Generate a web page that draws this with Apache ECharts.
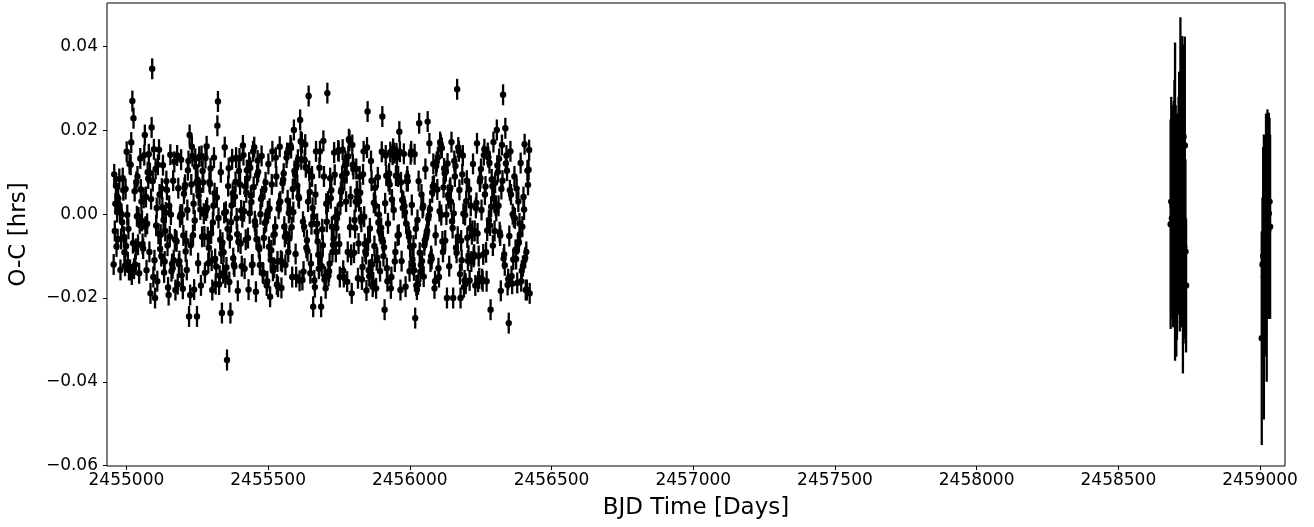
<!DOCTYPE html>
<html>
<head>
<meta charset="utf-8">
<script src="https://cdn.jsdelivr.net/npm/echarts@6/dist/echarts.min.js"></script>
<style>
html,body{margin:0;padding:0;background:#fff;}
#chart{width:1314px;height:527px;}
</style>
</head>
<body>
<div id="chart"></div>
<script>
// ---- Kepler transit times (BJD) ----
const keplerTime = [
2454955,2454957,2454959,2454961,2454963,2454965,2454967,
2454969,2454971,2454973,2454975,2454977,2454979,2454981,
2454983,2454985,2454987,2454989,2454991,2454993,2454995,
2454997,2454999,2455001,2455003,2455005,2455007,2455009,
2455011,2455013,2455015,2455017,2455019,2455021,2455023,
2455025,2455027,2455029,2455031,2455033,2455035,2455037,
2455039,2455041,2455043,2455045,2455047,2455049,2455051,
2455053,2455055,2455057,2455059,2455061,2455063,2455065,
2455067,2455069,2455071,2455073,2455075,2455077,2455079,
2455081,2455083,2455085,2455087,2455089,2455091,2455093,
2455095,2455097,2455099,2455101,2455103,2455105,2455107,
2455109,2455111,2455113,2455115,2455117,2455119,2455121,
2455123,2455125,2455127,2455129,2455131,2455133,2455135,
2455137,2455139,2455141,2455143,2455145,2455147,2455149,
2455151,2455153,2455155,2455157,2455159,2455161,2455163,
2455165,2455167,2455169,2455171,2455173,2455175,2455177,
2455179,2455181,2455183,2455185,2455187,2455189,2455191,
2455193,2455195,2455197,2455199,2455201,2455203,2455205,
2455207,2455209,2455211,2455213,2455215,2455217,2455219,
2455221,2455223,2455225,2455227,2455229,2455231,2455233,
2455235,2455237,2455239,2455241,2455243,2455245,2455247,
2455249,2455251,2455253,2455255,2455257,2455259,2455261,
2455263,2455265,2455267,2455269,2455271,2455273,2455275,
2455277,2455279,2455281,2455283,2455285,2455287,2455289,
2455291,2455293,2455295,2455297,2455299,2455301,2455303,
2455305,2455307,2455309,2455311,2455313,2455315,2455317,
2455319,2455321,2455323,2455325,2455327,2455329,2455331,
2455333,2455335,2455337,2455339,2455341,2455343,2455345,
2455347,2455349,2455351,2455353,2455355,2455357,2455359,
2455361,2455363,2455365,2455367,2455369,2455371,2455373,
2455375,2455377,2455379,2455381,2455383,2455385,2455387,
2455389,2455391,2455393,2455395,2455397,2455399,2455401,
2455403,2455405,2455407,2455409,2455411,2455413,2455415,
2455417,2455419,2455421,2455423,2455425,2455427,2455429,
2455431,2455433,2455435,2455437,2455439,2455441,2455443,
2455445,2455447,2455449,2455451,2455453,2455455,2455457,
2455459,2455461,2455463,2455465,2455467,2455469,2455471,
2455473,2455475,2455477,2455479,2455481,2455483,2455485,
2455487,2455489,2455491,2455493,2455495,2455497,2455499,
2455501,2455503,2455505,2455507,2455509,2455511,2455513,
2455515,2455517,2455519,2455521,2455523,2455525,2455527,
2455529,2455531,2455533,2455535,2455537,2455539,2455541,
2455543,2455545,2455547,2455549,2455551,2455553,2455555,
2455557,2455559,2455561,2455563,2455565,2455567,2455569,
2455571,2455573,2455575,2455577,2455579,2455581,2455583,
2455585,2455587,2455589,2455591,2455593,2455595,2455597,
2455599,2455601,2455603,2455605,2455607,2455609,2455611,
2455613,2455615,2455617,2455619,2455621,2455623,2455625,
2455627,2455629,2455631,2455633,2455635,2455637,2455639,
2455641,2455643,2455645,2455647,2455649,2455651,2455653,
2455655,2455657,2455659,2455661,2455663,2455665,2455667,
2455669,2455671,2455673,2455675,2455677,2455679,2455681,
2455683,2455685,2455687,2455689,2455691,2455693,2455695,
2455697,2455699,2455701,2455703,2455705,2455707,2455709,
2455711,2455713,2455715,2455717,2455719,2455721,2455723,
2455725,2455727,2455729,2455731,2455733,2455735,2455737,
2455739,2455741,2455743,2455745,2455747,2455749,2455751,
2455753,2455755,2455757,2455759,2455761,2455763,2455765,
2455767,2455769,2455771,2455773,2455775,2455777,2455779,
2455781,2455783,2455785,2455787,2455789,2455791,2455793,
2455795,2455797,2455799,2455801,2455803,2455805,2455807,
2455809,2455811,2455813,2455815,2455817,2455819,2455821,
2455823,2455825,2455827,2455829,2455831,2455833,2455835,
2455837,2455839,2455841,2455843,2455845,2455847,2455849,
2455851,2455853,2455855,2455857,2455859,2455861,2455863,
2455865,2455867,2455869,2455871,2455873,2455875,2455877,
2455879,2455881,2455883,2455885,2455887,2455889,2455891,
2455893,2455895,2455897,2455899,2455901,2455903,2455905,
2455907,2455909,2455911,2455913,2455915,2455917,2455919,
2455921,2455923,2455925,2455927,2455929,2455931,2455933,
2455935,2455937,2455939,2455941,2455943,2455945,2455947,
2455949,2455951,2455953,2455955,2455957,2455959,2455961,
2455963,2455965,2455967,2455969,2455971,2455973,2455975,
2455977,2455979,2455981,2455983,2455985,2455987,2455989,
2455991,2455993,2455995,2455997,2455999,2456001,2456003,
2456005,2456007,2456009,2456011,2456013,2456015,2456017,
2456019,2456021,2456023,2456025,2456027,2456029,2456031,
2456033,2456035,2456037,2456039,2456041,2456043,2456045,
2456047,2456049,2456051,2456053,2456055,2456057,2456059,
2456061,2456063,2456065,2456067,2456069,2456071,2456073,
2456075,2456077,2456079,2456081,2456083,2456085,2456087,
2456089,2456091,2456093,2456095,2456097,2456099,2456101,
2456103,2456105,2456107,2456109,2456111,2456113,2456115,
2456117,2456119,2456121,2456123,2456125,2456127,2456129,
2456131,2456133,2456135,2456137,2456139,2456141,2456143,
2456145,2456147,2456149,2456151,2456153,2456155,2456157,
2456159,2456161,2456163,2456165,2456167,2456169,2456171,
2456173,2456175,2456177,2456179,2456181,2456183,2456185,
2456187,2456189,2456191,2456193,2456195,2456197,2456199,
2456201,2456203,2456205,2456207,2456209,2456211,2456213,
2456215,2456217,2456219,2456221,2456223,2456225,2456227,
2456229,2456231,2456233,2456235,2456237,2456239,2456241,
2456243,2456245,2456247,2456249,2456251,2456253,2456255,
2456257,2456259,2456261,2456263,2456265,2456267,2456269,
2456271,2456273,2456275,2456277,2456279,2456281,2456283,
2456285,2456287,2456289,2456291,2456293,2456295,2456297,
2456299,2456301,2456303,2456305,2456307,2456309,2456311,
2456313,2456315,2456317,2456319,2456321,2456323,2456325,
2456327,2456329,2456331,2456333,2456335,2456337,2456339,
2456341,2456343,2456345,2456347,2456349,2456351,2456353,
2456355,2456357,2456359,2456361,2456363,2456365,2456367,
2456369,2456371,2456373,2456375,2456377,2456379,2456381,
2456383,2456385,2456387,2456389,2456391,2456393,2456395,
2456397,2456399,2456401,2456403,2456405,2456407,2456409,
2456411,2456413,2456415,2456417,2456419,2456421,2456423
];
// ---- Kepler O-C values (hrs) ----
const keplerOC = [
-0.0120,0.0095,-0.0040,0.0025,0.0068,-0.0077,0.0005,
-0.0060,0.0038,0.0023,0.0084,0.0007,-0.0133,-0.0059,
0.0000,-0.0019,0.0086,0.0057,-0.0054,-0.0091,-0.0123,
0.0060,-0.0076,0.0149,-0.0002,-0.0115,-0.0035,-0.0133,
0.0120,-0.0133,0.0118,0.0171,-0.0144,0.0270,-0.0069,
0.0229,-0.0130,0.0055,-0.0120,-0.0083,0.0077,-0.0005,
0.0090,-0.0073,-0.0008,-0.0141,-0.0022,0.0133,0.0059,
0.0030,-0.0016,-0.0071,-0.0082,0.0039,0.0141,0.0189,
-0.0030,0.0041,-0.0134,-0.0023,0.0100,0.0085,0.0143,
-0.0090,0.0098,-0.0189,0.0036,0.0207,0.0347,0.0079,
-0.0150,0.0155,-0.0110,-0.0200,0.0108,-0.0027,0.0015,
-0.0160,0.0118,-0.0047,0.0154,0.0047,-0.0083,-0.0049,
-0.0100,0.0061,0.0016,0.0117,-0.0014,-0.0139,-0.0113,
-0.0040,0.0004,0.0079,0.0058,-0.0075,-0.0175,-0.0193,
0.0020,-0.0053,0.0142,-0.0001,-0.0136,-0.0119,-0.0129,
0.0080,-0.0110,0.0125,-0.0060,-0.0181,-0.0063,-0.0065,
0.0140,-0.0167,0.0062,-0.0119,-0.0112,-0.0007,-0.0001,
0.0130,-0.0146,-0.0001,-0.0178,-0.0051,0.0049,0.0063,
0.0070,-0.0089,-0.0064,-0.0133,0.0010,0.0105,0.0127,
-0.0244,0.0189,-0.0193,-0.0074,0.0071,0.0161,0.0139,
-0.0050,0.0025,-0.0180,-0.0015,0.0132,0.0113,0.0075,
-0.0244,0.0082,-0.0117,0.0044,0.0137,0.0057,0.0011,
-0.0170,0.0139,-0.0054,0.0103,0.0076,0.0001,-0.0053,
-0.0140,0.0134,0.0009,0.0162,0.0015,-0.0055,-0.0117,
-0.0080,0.0077,0.0072,0.0109,-0.0046,-0.0111,-0.0181,
-0.0020,0.0020,0.0135,0.0050,-0.0107,-0.0167,-0.0125,
0.0040,0.0211,0.0269,-0.0009,-0.0168,-0.0147,-0.0061,
0.0100,-0.0094,-0.0236,-0.0068,-0.0141,-0.0091,0.0003,
0.0160,-0.0151,0.0006,-0.0127,-0.0348,-0.0035,0.0067,
0.0110,-0.0162,-0.0057,-0.0236,-0.0019,0.0021,0.0131,
0.0050,-0.0105,-0.0120,-0.0125,0.0042,0.0077,0.0135,
-0.0010,-0.0048,-0.0183,-0.0066,0.0103,0.0133,0.0071,
-0.0070,0.0009,-0.0124,-0.0007,0.0164,0.0141,0.0007,
-0.0130,0.0066,-0.0061,0.0052,0.0105,0.0085,-0.0057,
-0.0180,0.0123,0.0002,0.0111,0.0044,0.0029,-0.0121,
-0.0120,0.0150,0.0065,0.0160,-0.0017,-0.0027,-0.0185,
-0.0060,0.0093,0.0128,0.0101,-0.0078,-0.0083,-0.0121,
0.0000,0.0036,0.0139,0.0042,-0.0139,-0.0142,-0.0057,
0.0060,-0.0021,0.0076,-0.0017,-0.0170,-0.0160,0.0007,
0.0120,-0.0078,0.0013,-0.0197,-0.0109,-0.0086,0.0071,
0.0150,-0.0135,-0.0050,-0.0128,-0.0048,-0.0030,0.0135,
0.0090,-0.0168,-0.0113,-0.0173,0.0013,0.0026,0.0161,
0.0030,-0.0111,-0.0176,-0.0114,0.0074,0.0082,0.0097,
-0.0030,-0.0054,-0.0121,-0.0047,0.0135,0.0146,0.0033,
-0.0090,0.0003,-0.0058,0.0012,0.0164,0.0158,-0.0031,
-0.0150,0.0060,0.0005,0.0201,0.0103,0.0094,-0.0095,
-0.0150,0.0117,0.0068,0.0130,0.0042,0.0038,-0.0159,
0.0225,0.0174,0.0131,0.0171,-0.0157,-0.0018,-0.0137,
-0.0030,0.0129,0.0166,0.0112,-0.0080,-0.0062,-0.0088,
0.0030,0.0282,0.0103,0.0053,-0.0141,-0.0118,-0.0024,
0.0090,0.0015,-0.0221,-0.0006,-0.0158,-0.0174,0.0047,
0.0150,-0.0042,-0.0023,-0.0065,-0.0097,-0.0130,0.0111,
0.0150,-0.0099,-0.0221,-0.0124,-0.0036,-0.0074,0.0175,
0.0090,-0.0156,-0.0149,-0.0177,0.0025,-0.0018,0.0289,
0.0030,-0.0147,-0.0136,-0.0118,0.0086,0.0038,0.0057,
-0.0030,-0.0090,-0.0073,-0.0059,0.0147,0.0094,-0.0007,
-0.0090,-0.0033,-0.0010,0.0000,0.0152,0.0150,-0.0071,
-0.0150,0.0024,0.0053,0.0059,0.0091,0.0154,-0.0135,
-0.0150,0.0081,0.0116,0.0126,0.0030,0.0098,-0.0161,
-0.0090,0.0138,0.0179,0.0175,-0.0031,0.0042,-0.0097,
-0.0189,0.0165,0.0118,0.0108,-0.0092,-0.0014,-0.0033,
0.0030,0.0108,0.0055,0.0041,-0.0153,-0.0070,0.0031,
0.0090,0.0051,-0.0008,-0.0018,-0.0156,-0.0126,0.0095,
0.0150,-0.0006,-0.0071,-0.0089,-0.0095,-0.0182,0.0159,
0.0245,-0.0063,-0.0134,-0.0148,-0.0034,-0.0132,0.0127,
0.0080,-0.0120,-0.0173,-0.0163,0.0027,-0.0076,0.0063,
0.0020,-0.0177,-0.0110,-0.0104,0.0088,-0.0020,-0.0001,
-0.0040,-0.0136,-0.0047,-0.0033,0.0149,0.0233,-0.0065,
-0.0100,-0.0079,-0.0228,0.0026,0.0140,0.0092,-0.0129,
-0.0160,-0.0022,0.0079,0.0097,0.0071,0.0148,-0.0177,
-0.0150,0.0035,0.0142,0.0156,0.0010,0.0146,-0.0113,
-0.0090,0.0092,0.0145,0.0135,-0.0051,0.0090,-0.0049,
0.0197,0.0149,-0.0181,0.0076,-0.0112,0.0034,0.0015,
0.0030,0.0144,0.0019,0.0005,-0.0173,-0.0022,0.0079,
0.0090,0.0079,-0.0044,-0.0054,-0.0136,-0.0078,0.0143,
0.0150,0.0022,-0.0107,-0.0121,-0.0075,-0.0134,0.0143,
-0.0248,-0.0035,-0.0170,-0.0180,-0.0014,-0.0168,0.0079,
0.0217,-0.0092,-0.0137,-0.0121,0.0047,-0.0112,0.0015,
0.0020,-0.0149,-0.0074,-0.0062,0.0108,-0.0056,-0.0049,
-0.0040,0.0221,-0.0011,-0.0003,0.0169,0.0012,-0.0113,
-0.0100,-0.0107,0.0052,0.0066,0.0120,0.0068,-0.0177,
-0.0160,-0.0050,0.0115,0.0125,0.0059,0.0136,-0.0129,
-0.0150,0.0007,0.0172,0.0166,-0.0002,0.0158,-0.0065,
-0.0090,0.0064,0.0109,0.0097,-0.0063,0.0102,-0.0001,
-0.0200,0.0121,0.0046,0.0038,-0.0124,0.0058,0.0063,
0.0030,0.0172,-0.0017,-0.0033,-0.0200,0.0002,0.0127,
0.0090,0.0115,-0.0080,-0.0092,0.0298,-0.0054,0.0159,
0.0150,0.0058,-0.0143,-0.0200,-0.0063,-0.0110,0.0095,
0.0140,0.0001,-0.0174,-0.0158,-0.0002,-0.0166,0.0031,
0.0080,-0.0056,-0.0111,-0.0099,0.0059,-0.0158,-0.0033,
0.0020,-0.0113,-0.0048,-0.0040,0.0120,-0.0102,-0.0097,
-0.0040,-0.0170,0.0015,0.0027,0.0169,-0.0046,-0.0161,
-0.0100,-0.0153,0.0078,0.0086,0.0108,0.0010,-0.0155,
-0.0160,-0.0096,0.0141,0.0155,0.0047,0.0066,-0.0091,
-0.0160,-0.0039,0.0146,0.0136,-0.0014,0.0122,-0.0027,
-0.0228,0.0018,0.0083,0.0067,-0.0075,0.0172,0.0037,
-0.0040,0.0075,0.0020,0.0008,0.0201,0.0116,0.0101,
0.0020,0.0132,-0.0043,-0.0051,-0.0183,0.0060,0.0165,
0.0080,0.0285,-0.0106,-0.0096,-0.0122,0.0205,0.0121,
0.0140,0.0104,-0.0169,-0.0155,-0.0260,-0.0052,0.0057,
0.0150,0.0047,-0.0148,-0.0166,0.0000,-0.0108,-0.0007,
0.0090,-0.0010,-0.0085,-0.0107,0.0061,-0.0164,-0.0071,
0.0030,-0.0067,-0.0022,-0.0048,0.0122,-0.0160,-0.0135,
-0.0030,-0.0124,0.0041,0.0011,0.0167,-0.0104,-0.0181,
-0.0090,-0.0181,0.0104,0.0070,0.0106,0.0153,-0.0189
];
const keplerErr = 0.0025;

// ---- TESS (Sectors 14/15) ----
const tessATime = [2458684.5,2458686.7,2458689.0,2458691.2,2458693.4,2458695.6,2458697.9,2458700.1,2458702.3,2458704.5,2458706.8,2458712.3,2458714.5,2458716.7,2458719.0,2458721.2,2458723.4,2458725.6,2458727.8,2458730.1,2458732.3,2458734.5,2458736.7,2458738.9];
const tessAOC   = [-0.0024,0.0030,-0.0010,0.0020,-0.0040,0.0010,0.0050,0.0030,-0.0020,-0.0060,-0.0030,0.0020,0.0060,-0.0040,0.0100,-0.0010,0.0080,0.0205,-0.0070,0.0185,-0.0077,0.0164,-0.0089,-0.0170];
const tessAErr  = [0.025,0.025,0.024,0.024,0.023,0.026,0.027,0.038,0.028,0.028,0.027,0.026,0.028,0.024,0.037,0.026,0.032,0.022,0.031,0.022,0.022,0.026,0.022,0.016];

// ---- TESS (Sector 26) ----
const tessBTime = [2459006.0,2459008.5,2459011.0,2459013.5,2459016.0,2459018.5,2459021.0,2459023.5,2459026.0,2459028.5,2459031.0,2459033.5,2459035.5];
const tessBOC   = [-0.0296,-0.0120,-0.0100,-0.0150,-0.0060,-0.0080,-0.0020,-0.0090,0.0010,-0.0040,0.0002,0.0030,-0.0030];
const tessBErr  = [0.0255,0.0160,0.0260,0.0340,0.0230,0.0260,0.0260,0.0310,0.0240,0.0210,0.0240,0.0200,0.0220];

// ---- axes ----
const xTicks = [2455000,2455500,2456000,2456500,2457000,2457500,2458000,2458500,2459000];
const yTicks = [-0.06,-0.04,-0.02,0.00,0.02,0.04];
const xRange = [2454931.5, 2459088];
const yRange = [-0.0601, 0.0504];

const FONT = 'DejaVu Sans';

function errRender(params, api) {
  const t = api.value(0), v = api.value(1), e = api.value(2);
  const c = api.coord([t, v]);
  const hi = api.coord([t, v + e]);
  const lo = api.coord([t, v - e]);
  return {
    type: 'group',
    children: [
      {type: 'line', shape: {x1: c[0], y1: hi[1], x2: c[0], y2: lo[1]}, style: {stroke: '#000', lineWidth: 2.3}},
      {type: 'circle', shape: {cx: c[0], cy: c[1], r: 3.2}, style: {fill: '#000'}}
    ]
  };
}

const keplerData = keplerTime.map((t, i) => [t, keplerOC[i], keplerErr]);
const tessAData = tessATime.map((t, i) => [t, tessAOC[i], tessAErr[i]]);
const tessBData = tessBTime.map((t, i) => [t, tessBOC[i], tessBErr[i]]);

const chart = echarts.init(document.getElementById('chart'), null, {renderer: 'canvas'});
chart.setOption({
  animation: false,
  backgroundColor: '#fff',
  grid: {left: 107, right: 29, top: 3, bottom: 61, show: true, borderColor: '#000', borderWidth: 1, backgroundColor: 'transparent'},
  xAxis: {
    type: 'value', min: xRange[0], max: xRange[1],
    name: 'BJD Time [Days]', nameLocation: 'middle', nameGap: 31,
    nameTextStyle: {fontFamily: FONT, fontSize: 23, color: '#000'},
    axisLine: {show: false, onZero: false},
    splitLine: {show: false},
    axisTick: {show: true, length: 4, lineStyle: {color: '#000', width: 1}, customValues: xTicks},
    axisLabel: {fontFamily: FONT, fontSize: 17, color: '#000', margin: 6, customValues: xTicks, formatter: v => String(Math.round(v))}
  },
  yAxis: {
    type: 'value', min: yRange[0], max: yRange[1],
    name: 'O-C [hrs]', nameLocation: 'middle', nameGap: 76,
    nameTextStyle: {fontFamily: FONT, fontSize: 23, color: '#000'},
    axisLine: {show: false, onZero: false},
    splitLine: {show: false},
    axisTick: {show: true, length: 4, lineStyle: {color: '#000', width: 1}, customValues: yTicks},
    axisLabel: {fontFamily: FONT, fontSize: 17, color: '#000', margin: 9, customValues: yTicks,
      formatter: v => v.toFixed(2).replace('-', '\u2212').replace('\u22120.00', '0.00')}
  },
  series: [
    {type: 'custom', renderItem: errRender, data: keplerData, encode: {x: 0, y: 1}, clip: true},
    {type: 'custom', renderItem: errRender, data: tessAData, encode: {x: 0, y: 1}, clip: true},
    {type: 'custom', renderItem: errRender, data: tessBData, encode: {x: 0, y: 1}, clip: true}
  ]
});
</script>
</body>
</html>
